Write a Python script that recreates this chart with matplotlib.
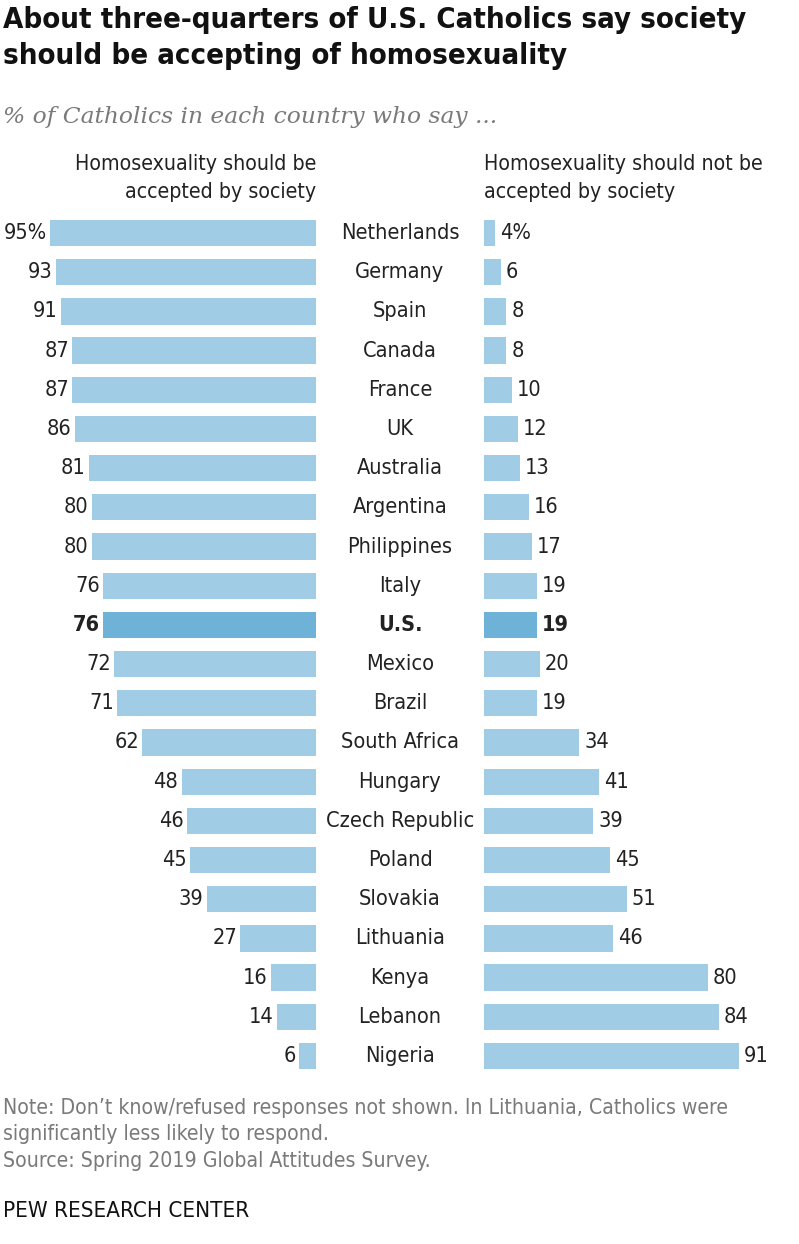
import matplotlib
matplotlib.use("Agg")
import matplotlib.pyplot as plt
from matplotlib import font_manager
from matplotlib.font_manager import FontProperties
import matplotlib.transforms as mtransforms

countries = ["Netherlands", "Germany", "Spain", "Canada", "France", "UK", "Australia",
             "Argentina", "Philippines", "Italy", "U.S.", "Mexico", "Brazil", "South Africa",
             "Hungary", "Czech Republic", "Poland", "Slovakia", "Lithuania", "Kenya",
             "Lebanon", "Nigeria"]
accepted = [95, 93, 91, 87, 87, 86, 81, 80, 80, 76, 76, 72, 71, 62, 48, 46, 45, 39, 27, 16, 14, 6]
not_accepted = [4, 6, 8, 8, 10, 12, 13, 16, 17, 19, 19, 20, 19, 34, 41, 39, 45, 51, 46, 80, 84, 91]
highlight = "U.S."

# look for a condensed sans face
cond = {}
for f in font_manager.fontManager.ttflist:
    st = str(f.stretch).lower()
    if ("condensed" in st or "narrow" in f.name.lower() or "condensed" in f.name.lower()) \
            and f.style == "normal" and "mono" not in f.name.lower():
        w = f.weight if isinstance(f.weight, int) else (700 if "bold" in str(f.weight) else 400)
        key = "bold" if w >= 600 else "regular"
        if w in (400, 700) or key not in cond:
            cond.setdefault(key, f.fname)
found = "regular" in cond and "bold" in cond


def fp(size, bold=False):
    if found:
        return FontProperties(fname=cond["bold" if bold else "regular"], size=size)
    return FontProperties(family="Liberation Sans", weight="bold" if bold else "normal",
                          size=size * 0.9)


W, H = 799, 1244
fig = plt.figure(figsize=(W / 100, H / 100), dpi=100)
fig.patch.set_facecolor("white")

light = "#a0cce6"
dark = "#6fb2d8"
n = len(countries)
row_h = (1056 - 233) / (n - 1)
top_px = 233 - row_h / 2
bot_px = 1056 + row_h / 2
ax_b = 1 - bot_px / H
ax_h = (bot_px - top_px) / H
ppu = 2.8  # pixels per percentage point

axL = fig.add_axes([0, ax_b, 316 / W, ax_h])
axR = fig.add_axes([484 / W, ax_b, (W - 484) / W, ax_h])
axL.set_xlim(316 / ppu, 0)
axR.set_xlim(0, (W - 484) / ppu)
for ax in (axL, axR):
    ax.set_ylim(n - 0.5, -0.5)
    ax.axis("off")

ys = list(range(n))
cols = [dark if c == highlight else light for c in countries]
axL.barh(ys, accepted, height=0.67, color=cols)
axR.barh(ys, not_accepted, height=0.67, color=cols)

fs = 15.6
tr = mtransforms.blended_transform_factory(fig.transFigure, axL.transData)
for i, (c, a, b) in enumerate(zip(countries, accepted, not_accepted)):
    bold = c == highlight
    la = f"{a}%" if i == 0 else f"{a}"
    lb = f"{b}%" if i == 0 else f"{b}"
    axL.annotate(la, (a, i), xytext=(-2.5, 0), textcoords="offset points", ha="right",
                 va="center", fontproperties=fp(fs, bold), color="#222222")
    axR.annotate(lb, (b, i), xytext=(3.5, 0), textcoords="offset points", ha="left",
                 va="center", fontproperties=fp(fs, bold), color="#222222")
    axL.text(400 / W, i, c, transform=tr, ha="center", va="center",
             fontproperties=fp(fs, bold), color="#222222")

# column headers
hfs = 15.3
fig.text(316 / W, 1 - 178 / H, "Homosexuality should be\naccepted by society", ha="right",
         va="center", fontproperties=fp(hfs), color="#222222", linespacing=1.5)
fig.text(484 / W, 1 - 178 / H, "Homosexuality should not be\naccepted by society", ha="left",
         va="center", fontproperties=fp(hfs), color="#222222", linespacing=1.5)

# title & subtitle
fig.text(3 / W, 1 - 6 / H, "About three-quarters of U.S. Catholics say society\nshould be accepting of homosexuality",
         ha="left", va="top", fontproperties=fp(21.1, True), color="#111111",
         linespacing=1.35)
fig.text(3 / W, 1 - 117 / H, "% of Catholics in each country who say ...", ha="left", va="center",
         fontsize=16.8, family="DejaVu Serif", style="italic", color="#7a7a7a")

# footer
fig.text(3 / W, 1 - 1098 / H,
         "Note: Don\u2019t know/refused responses not shown. In Lithuania, Catholics were\n"
         "significantly less likely to respond.\nSource: Spring 2019 Global Attitudes Survey.",
         ha="left", va="top", fontproperties=fp(15.2), color="#7a7a7a", linespacing=1.4)
fig.text(3 / W, 1 - 1211 / H, "PEW RESEARCH CENTER", ha="left", va="center",
         fontproperties=fp(16.0), color="#111111")

fig.savefig("out.png", dpi=100)
